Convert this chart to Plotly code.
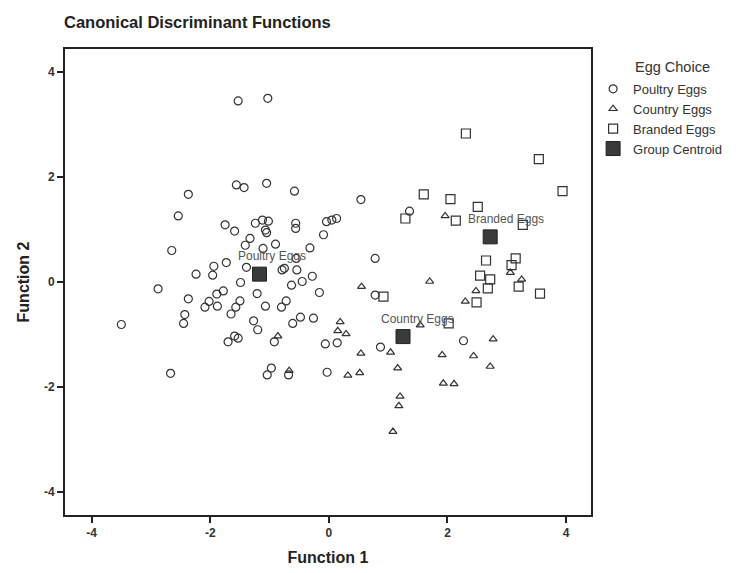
import plotly.graph_objects as go

# Group data (Function 1, Function 2)
poultry_x = [-1.53, -1.03, -2.37, -2.54, -1.56, -1.43, -1.05, -0.58, -1.75, -1.59, -1.24, -1.12, -1.02,
             -1.07, -1.05, -0.56, -0.56, -0.04, 0.13, -0.09, -1.33, -2.65, -1.41, -1.11, -0.90, -0.32,
             -1.94, -1.73, -1.39, -2.24, -1.96, -1.49, -0.79, -0.75, -0.55, -0.54, -0.63, -0.45, -0.28,
             -2.88, -2.37, -1.89, -1.78, -2.02, -2.09, -1.88, -1.50, -1.57, -1.65, -1.21, -1.07, -0.80,
             -0.72, -0.16, -2.43, -2.45, -3.50, -1.27, -1.20, -0.61, -0.48, -0.26, -1.70, -1.53, -1.59,
             -0.92, -0.06, 0.14, -2.67, -1.04, -0.97, -0.68, -0.03, 0.54, 0.05, 1.36, 0.78, 0.78, 0.87, 2.27]
poultry_y = [3.45, 3.50, 1.67, 1.26, 1.85, 1.80, 1.88, 1.73, 1.09, 0.97, 1.12, 1.18, 1.16,
             0.99, 0.94, 1.12, 1.02, 1.15, 1.21, 0.90, 0.83, 0.60, 0.70, 0.64, 0.72, 0.65,
             0.30, 0.37, 0.28, 0.15, 0.13, -0.01, 0.23, 0.26, 0.45, 0.23, -0.06, 0.01, 0.11,
             -0.13, -0.32, -0.23, -0.17, -0.37, -0.48, -0.46, -0.36, -0.48, -0.61, -0.22, -0.46, -0.48,
             -0.36, -0.20, -0.62, -0.79, -0.81, -0.74, -0.91, -0.79, -0.67, -0.69, -1.14, -1.07, -1.03,
             -1.14, -1.18, -1.16, -1.74, -1.77, -1.64, -1.77, -1.72, 1.57, 1.18, 1.35, 0.45, -0.25, -1.24, -1.12]

country_x = [1.96, 0.55, 1.70, 3.06, 3.25, 2.48, 2.30, 0.19, 0.15, 0.29, 1.54, 1.04, 0.54, 1.91,
             2.44, 2.77, 2.72, 1.16, 0.32, 0.52, 1.93, 2.11, 1.20, 1.18, 1.08, -0.86, -0.67]
country_y = [1.26, -0.09, 0.01, 0.18, 0.05, -0.17, -0.37, -0.76, -0.93, -0.99, -0.82, -1.34, -1.36, -1.39,
             -1.41, -1.09, -1.61, -1.64, -1.78, -1.73, -1.93, -1.94, -2.18, -2.36, -2.85, -1.03, -1.69]

branded_x = [2.31, 3.54, 3.94, 1.60, 2.05, 2.51, 1.29, 2.14, 3.27, 2.65, 3.15, 3.08, 2.55, 2.72,
             2.68, 3.20, 3.56, 0.92, 2.49, 2.02]
branded_y = [2.83, 2.34, 1.73, 1.67, 1.58, 1.43, 1.21, 1.17, 1.09, 0.41, 0.45, 0.32, 0.12, 0.05,
             -0.12, -0.09, -0.22, -0.28, -0.39, -0.79]

centroid_names = ["Poultry Eggs", "Country Eggs", "Branded Eggs"]
centroid_x = [-1.17, 1.25, 2.72]
centroid_y = [0.15, -1.04, 0.86]

tick_vals = [-4, -2, 0, 2, 4]
tick_text = ["-4", "-2", "0", "2", "4"]

FONT = "Liberation Sans, Arial, sans-serif"
INK = "#333333"

fig = go.Figure()
fig.add_trace(go.Scatter(x=poultry_x, y=poultry_y, mode="markers", name="Poultry Eggs",
                         marker=dict(symbol="circle-open", size=8, color=INK, line=dict(width=1.2, color=INK))))
fig.add_trace(go.Scatter(x=country_x, y=country_y, mode="markers", name="Country Eggs",
                         marker=dict(symbol="triangle-up-open", size=7, color=INK, line=dict(width=1.2, color=INK))))
fig.add_trace(go.Scatter(x=branded_x, y=branded_y, mode="markers", name="Branded Eggs",
                         marker=dict(symbol="square-open", size=9, color=INK, line=dict(width=1.2, color=INK))))
fig.add_trace(go.Scatter(x=centroid_x, y=centroid_y, mode="markers", name="Group Centroid",
                         marker=dict(symbol="square", size=14, color="#3a3a3a", line=dict(width=1, color="#222222"))))

for nm, cx, cy in zip(centroid_names, centroid_x, centroid_y):
    fig.add_annotation(x=cx, y=cy, text=nm, showarrow=False, xanchor="left", yanchor="middle",
                       xshift=-24, yshift=18, font=dict(family=FONT, size=12, color="#555555"))

# legend title as a centred text label (paper coords relative to plot area)
fig.add_annotation(x=1.154, y=0.961, xref="paper", yref="paper", text="Egg Choice",
                   showarrow=False, xanchor="center", yanchor="middle",
                   font=dict(family=FONT, size=14.5, color="#333333"))

axis_common = dict(showline=True, linecolor="#222222", linewidth=2, mirror=True,
                   ticks="outside", ticklen=6, tickwidth=1.5, tickcolor="#222222",
                   tickvals=tick_vals, ticktext=["<b>%s</b>" % t for t in tick_text],
                   showgrid=False, zeroline=False,
                   tickfont=dict(family=FONT, size=12, color="#333333"))

fig.update_xaxes(range=[-4.45, 4.42], title=dict(text="<b>Function 1</b>", standoff=12,
                 font=dict(family=FONT, size=16, color="#222222")), **axis_common)
fig.update_yaxes(range=[-4.44, 4.44], title=dict(text="<b>Function 2</b>", standoff=10,
                 font=dict(family=FONT, size=16, color="#222222")), **axis_common)

fig.update_layout(
    width=745, height=573,
    margin=dict(l=57, r=162, t=41, b=66),
    paper_bgcolor="white", plot_bgcolor="white",
    font=dict(family=FONT, color=INK),
    title=dict(text="<b>Canonical Discriminant Functions</b>", x=56/745, xanchor="left",
               y=1 - 14/573, yanchor="middle", font=dict(family=FONT, size=16.5, color="#222222")),
    legend=dict(x=1.004, y=0.9466, xanchor="left", yanchor="top",
                font=dict(family=FONT, size=13, color="#333333"),
                itemsizing="trace", tracegroupgap=0, bgcolor="rgba(0,0,0,0)"),
    showlegend=True,
)

fig.write_html("out.html")
